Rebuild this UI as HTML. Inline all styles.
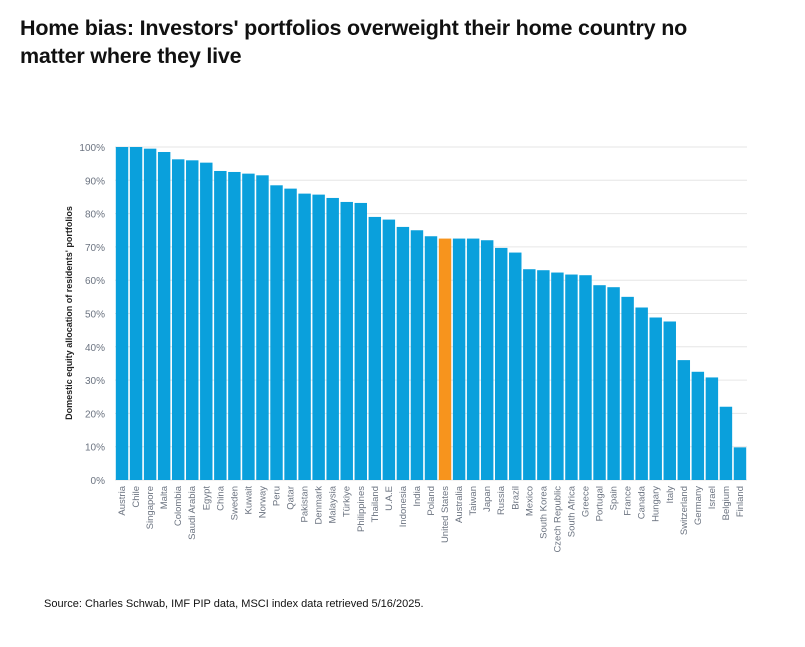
<!DOCTYPE html>
<html><head><meta charset="utf-8"><style>
body{margin:0;background:#fff;width:805px;height:647px;overflow:hidden;font-family:"Liberation Sans",sans-serif}
h1{position:absolute;left:20px;top:14px;margin:0;font-size:21.5px;line-height:28px;font-weight:bold;color:#111;width:735px;letter-spacing:-0.2px}
#src{position:absolute;left:44px;top:598px;font-size:11px;color:#111}
</style></head><body>
<h1>Home bias: Investors' portfolios overweight their home country no matter where they live</h1>
<svg id="chart" width="805" height="647" style="position:absolute;left:0;top:0"></svg>
<div id="src">Source: Charles Schwab, IMF PIP data, MSCI index data retrieved 5/16/2025.</div>
<script>
const categories=["Austria","Chile","Singapore","Malta","Colombia","Saudi Arabia","Egypt","China","Sweden","Kuwait","Norway","Peru","Qatar","Pakistan","Denmark","Malaysia","Türkiye","Philippines","Thailand","U.A.E","Indonesia","India","Poland","United States","Australia","Taiwan","Japan","Russia","Brazil","Mexico","South Korea","Czech Republic","South Africa","Greece","Portugal","Spain","France","Canada","Hungary","Italy","Switzerland","Germany","Israel","Belgium","Finland"];
const values=[100,100,99.5,98.5,96.3,96,95.3,92.8,92.5,92,91.5,88.5,87.5,86,85.7,84.7,83.5,83.2,79,78.2,76,75,73.2,72.5,72.5,72.5,72,69.7,68.3,63.3,63,62.3,61.7,61.5,58.5,57.9,55,51.8,48.8,47.6,36,32.5,30.8,22,9.8];
const highlight="United States";
const yTicks=[0,10,20,30,40,50,60,70,80,90,100];
const NS="http://www.w3.org/2000/svg";
const svg=document.getElementById('chart');
const x0=115,x1=747,y0=480,y1=147;
const bw=(x1-x0)/categories.length;
const y=v=>y0-(v/100)*(y0-y1);
const x=i=>x0+i*bw;
function mk(t,a){const e=document.createElementNS(NS,t);for(const k in a)e.setAttribute(k,a[k]);svg.appendChild(e);return e;}
yTicks.forEach(t=>{
 const l=mk('line',{x1:x0,x2:x1,y1:y(t),y2:y(t),stroke:'#e6e6e6','stroke-width':1});
 
 
 const tx=mk('text',{x:x0-10,y:y(t)+4,'text-anchor':'end','font-size':10,fill:'#6b7380'});
 tx.textContent=t+'%';
 
 
});
categories.forEach((c,i)=>{
 const r=mk('rect',{x:x(i)+0.8,y:y(values[i]),width:bw-1.6,height:y0-y(values[i]),fill:c===highlight?'#f7941d':'#0aa0dc'});
 
 
 const cx=x(i)+bw/2+3;
 const t=mk('text',{x:cx,y:y0+6,'text-anchor':'end','font-size':9.5,fill:'#6b7380',transform:`rotate(-90 ${cx} ${y0+6})`});
 t.textContent=c;
 
 
});
const yt=mk('text',{x:72,y:313,'text-anchor':'middle','font-size':9,'font-weight':'bold',fill:'#222',transform:'rotate(-90 72 313)'});
yt.textContent="Domestic equity allocation of residents' portfolios";


</script>
</body></html>
